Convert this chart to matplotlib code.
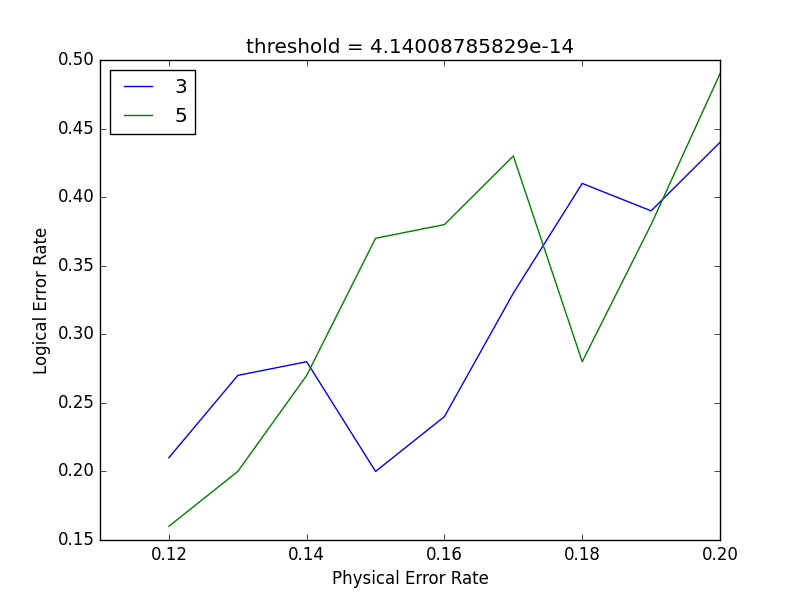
import matplotlib
matplotlib.use('Agg')
import matplotlib.pyplot as plt

# データ
physical_error = [0.12, 0.13, 0.14, 0.15, 0.16, 0.17, 0.18, 0.19, 0.20]
logical_d3 = [0.21, 0.27, 0.28, 0.20, 0.24, 0.33, 0.41, 0.39, 0.44]
logical_d5 = [0.16, 0.20, 0.27, 0.37, 0.38, 0.43, 0.28, 0.38, 0.49]
labels = ['3', '5']
threshold = '4.14008785829e-14'

plt.style.use('classic')
fig = plt.figure(figsize=(8, 6), dpi=100)
plt.plot(physical_error, logical_d3, color='b', label=labels[0])
plt.plot(physical_error, logical_d5, color='g', label=labels[1])
plt.xlim(0.11, 0.20)
plt.ylim(0.15, 0.50)
plt.xticks([0.12, 0.14, 0.16, 0.18, 0.20])
plt.xlabel('Physical Error Rate')
plt.ylabel('Logical Error Rate')
plt.title('threshold = ' + threshold)
plt.legend(loc='upper left')
plt.savefig('out.png', dpi=100)
